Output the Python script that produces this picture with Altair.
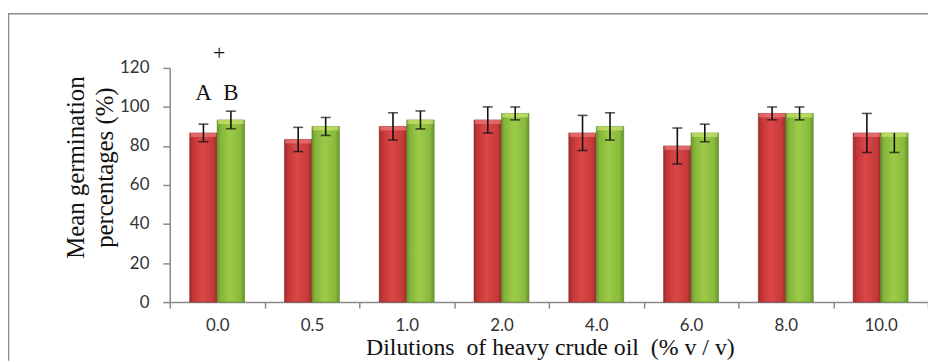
import altair as alt
import pandas as pd

# ---- data ----
categories = ["0.0", "0.5", "1.0", "2.0", "4.0", "6.0", "8.0", "10.0"]
series_names = ["A", "B"]
values_a = [86.67, 83.33, 90.0, 93.33, 86.67, 80.0, 96.67, 86.67]
values_b = [93.33, 90.0, 93.33, 96.67, 90.0, 86.67, 96.67, 86.67]
err_lo_a = [4.5, 6.2, 7.0, 6.7, 9.0, 9.2, 3.3, 10.0]
err_hi_a = [4.5, 6.2, 7.0, 6.7, 9.0, 9.2, 3.3, 10.0]
err_lo_b = [4.5, 4.6, 4.6, 3.3, 7.0, 4.5, 3.3, 10.0]
err_hi_b = [4.5, 4.6, 4.6, 3.3, 7.0, 4.5, 3.3, 0.0]

y_ticks = [0, 20, 40, 60, 80, 100, 120]
x_title = "Dilutions\u00a0 of heavy crude oil\u00a0 (% v / v)"
y_title = ["Mean germination", "percentages (%)"]

ann_text = ["A", "B", "+"]
ann_series = ["A", "B", ""]
ann_value = [107.0, 107.0, 127.7]

# ---- tables ----
rows = []
for i, c in enumerate(categories):
    rows.append(dict(cat=c, series="A", value=values_a[i],
                     lo=values_a[i] - err_lo_a[i], hi=values_a[i] + err_hi_a[i]))
    rows.append(dict(cat=c, series="B", value=values_b[i],
                     lo=values_b[i] - err_lo_b[i], hi=values_b[i] + err_hi_b[i]))
df = pd.DataFrame(rows)

ann = pd.DataFrame(dict(cat=["0.0"] * 3, series=ann_series, label=ann_text, value=ann_value))

W, H = 764, 236

x_axis = alt.Axis(title=x_title, labelAngle=0, tickBand="extent",
                  labelFont="Lato", labelFontSize=17, labelColor="#333333",
                  labelPadding=10, tickSize=6, tickColor="#8a8a8a",
                  domainColor="#8a8a8a", domainWidth=1.5, tickWidth=1.5,
                  titleFont="Liberation Serif", titleFontSize=24,
                  titleFontWeight="normal", titleColor="#111111",
                  titleBaseline="alphabetic", titleY=53, titleX=383)
x_enc = alt.X("cat:N", sort=categories,
              scale=alt.Scale(paddingInner=0, paddingOuter=0), axis=x_axis)
xo_enc = alt.XOffset("series:N", sort=series_names,
                     scale=alt.Scale(paddingInner=0, paddingOuter=0.725))
y_scale = alt.Scale(domain=[0, 120], nice=False)
y_axis = alt.Axis(values=y_ticks, title=y_title, grid=False, labelOverlap=False,
                  labelFont="Lato", labelFontSize=17, labelColor="#333333",
                  labelPadding=14, tickSize=7, tickColor="#8a8a8a",
                  domainColor="#8a8a8a", domainWidth=1.5, tickWidth=1.5,
                  titleFont="Liberation Serif", titleFontSize=25,
                  titleFontWeight="normal", titleColor="#111111",
                  titleAngle=270, titleBaseline="alphabetic",
                  titleLineHeight=29, titleX=-87, titleY=100,
                  titleAlign="center")


def ye(field):
    return alt.Y(field + ":Q", scale=y_scale, axis=y_axis)


base = alt.Chart(df)

red_grad = alt.LinearGradient(gradient="linear", x1=0, x2=1, y1=0, y2=0, stops=[
    alt.GradientStop(offset=0, color="#9a2a2a"),
    alt.GradientStop(offset=0.12, color="#c23636"),
    alt.GradientStop(offset=0.45, color="#db4747"),
    alt.GradientStop(offset=0.85, color="#c73a3a"),
    alt.GradientStop(offset=1, color="#9a2a2a")])
green_grad = alt.LinearGradient(gradient="linear", x1=0, x2=1, y1=0, y2=0, stops=[
    alt.GradientStop(offset=0, color="#66932a"),
    alt.GradientStop(offset=0.12, color="#84b53a"),
    alt.GradientStop(offset=0.45, color="#9ccb47"),
    alt.GradientStop(offset=0.85, color="#88ba3c"),
    alt.GradientStop(offset=1, color="#66932a")])

bars_a = base.transform_filter(alt.datum.series == "A").mark_bar(
    fill=red_grad, stroke="#8a2a2a", strokeWidth=0.6).encode(x=x_enc, xOffset=xo_enc, y=ye("value"))
bars_b = base.transform_filter(alt.datum.series == "B").mark_bar(
    fill=green_grad, stroke="#5f8a28", strokeWidth=0.6).encode(x=x_enc, xOffset=xo_enc, y=ye("value"))

tops_a = base.transform_filter(alt.datum.series == "A").mark_tick(
    color="#ee7a7a", thickness=4, size=26, yOffset=2).encode(x=x_enc, xOffset=xo_enc, y=ye("value"))
tops_b = base.transform_filter(alt.datum.series == "B").mark_tick(
    color="#cfe36f", thickness=4, size=26, yOffset=2).encode(x=x_enc, xOffset=xo_enc, y=ye("value"))

err_rule = base.mark_rule(color="#111111", strokeWidth=1.6).encode(
    x=x_enc, xOffset=xo_enc, y=ye("lo"), y2="hi:Q")
cap_lo = base.mark_tick(color="#111111", thickness=1.6, size=10).encode(
    x=x_enc, xOffset=xo_enc, y=ye("lo"))
cap_hi = base.transform_filter(alt.datum.hi > alt.datum.value).mark_tick(
    color="#111111", thickness=1.6, size=10).encode(x=x_enc, xOffset=xo_enc, y=ye("hi"))

ann_ab = alt.Chart(ann).transform_filter(alt.datum.series != "").mark_text(
    font="Liberation Serif", fontSize=23, color="#111111", baseline="middle").encode(
    x=x_enc, xOffset=xo_enc, y=ye("value"), text="label:N")
ann_plus = alt.Chart(ann).transform_filter(alt.datum.series == "").mark_text(
    font="Liberation Serif", fontSize=22, color="#111111", baseline="middle", dx=2).encode(
    x=x_enc, y=ye("value"), text="label:N")

# outer chart border (only its top and left edges are inside the picture)
one = pd.DataFrame({"k": [0]})
frame_top = alt.Chart(one).mark_rule(stroke="#8c8c8c", strokeWidth=1.5).encode(
    x=alt.value(-163), x2=alt.value(W), y=alt.value(-54.5))
frame_left = alt.Chart(one).mark_rule(stroke="#8c8c8c", strokeWidth=1.5).encode(
    x=alt.value(-162.5), y=alt.value(-54.5), y2=alt.value(H + 59))

chart = alt.layer(frame_top, frame_left, bars_a, bars_b, tops_a, tops_b, err_rule,
                  cap_lo, cap_hi, ann_ab, ann_plus).properties(
    width=W, height=H,
    autosize=alt.AutoSizeParams(type="none"),
    padding={"left": 163, "top": 59, "right": 0, "bottom": 59},
    background="white",
).configure_view(stroke=None)

chart.save("out.html", embed_options={"renderer": "svg", "actions": False})
